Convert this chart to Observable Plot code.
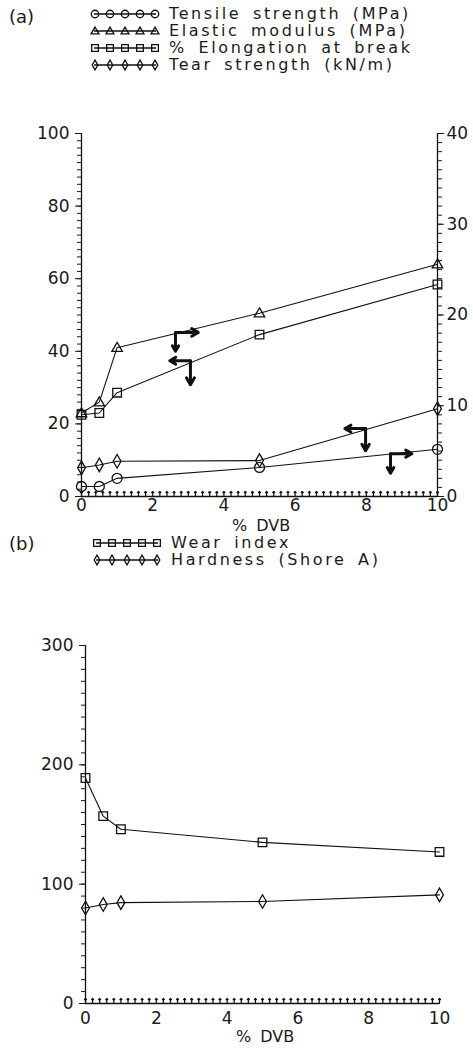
<!DOCTYPE html>
<html><head><meta charset="utf-8">
<script src="https://cdn.jsdelivr.net/npm/d3@7"></script>
<script src="https://cdn.jsdelivr.net/npm/@observablehq/plot@0.6"></script>
<style>
body{margin:0;background:#fff;font-family:"DejaVu Sans",sans-serif;color:#1a1a1a;}
#root{position:relative;width:473px;height:1048px;overflow:hidden;}
.t{position:absolute;font-size:18px;white-space:nowrap;line-height:1;}
.row{position:absolute;display:flex;align-items:center;height:16px;}
.row svg{display:block;}
.row span{font-size:16px;line-height:1;margin-left:7px;white-space:nowrap;letter-spacing:2.6px;word-spacing:4px;}
.plot{position:absolute;left:0;}
</style></head><body><div id="root"></div>
<script>
// ---------- data ----------
const dvb = [0, 0.5, 1, 5, 10];                       // % DVB
// panel (a)
const tensile    = [1.1, 1.1, 2.0, 3.2, 5.2];         // MPa, right axis
const elastic    = [9.2, 10.4, 16.4, 20.2, 25.6];     // MPa, right axis
const elongation = [22.5, 23.0, 28.6, 44.6, 58.4];    // %, left axis
const tear       = [7.9, 8.7, 9.7, 9.9, 24.2];        // kN/m, left axis
// panel (b)
const wear     = [189, 157, 146, 135, 127];
const hardness = [80, 83, 84.5, 85.5, 91];
// tick values
const xTicks = [0, 2, 4, 6, 8, 10];
const leftTicksA = [0, 20, 40, 60, 80, 100];
const rightTicksA = [0, 10, 20, 30, 40];
const leftTicksB = [0, 100, 200, 300];
const legendA = ["Tensile strength (MPa)", "Elastic modulus (MPa)", "% Elongation at break", "Tear strength (kN/m)"];
const legendB = ["Wear index", "Hardness (Shore A)"];
// axis-indicator arrows (x: % DVB, y: left-axis units)
const arrowsA = [
  {x1: 2.64, y1: 45.2, x2: 3.28, y2: 45.2}, {x1: 2.64, y1: 45.2, x2: 2.64, y2: 40.0},
  {x1: 3.06, y1: 37.4, x2: 2.48, y2: 37.4}, {x1: 3.06, y1: 37.4, x2: 3.06, y2: 30.8},
  {x1: 7.98, y1: 18.7, x2: 7.40, y2: 18.7}, {x1: 7.98, y1: 18.7, x2: 7.98, y2: 12.6},
  {x1: 8.68, y1: 11.8, x2: 9.28, y2: 11.8}, {x1: 8.68, y1: 11.8, x2: 8.68, y2: 6.4}
];

const RATIO = 100 / 40; // right axis -> left axis units
const FONT = "DejaVu Sans, sans-serif";

// ---------- symbols ----------
const symCircle = {draw(c, s){ const r = Math.sqrt(s/Math.PI); c.moveTo(r,0); c.arc(0,0,r,0,2*Math.PI); c.closePath(); }};
const symSquare = {draw(c, s){ const r = Math.sqrt(s/Math.PI)*0.9; c.rect(-r,-r,2*r,2*r); }};
const symTri = {draw(c, s){ const r = Math.sqrt(s/Math.PI); c.moveTo(0,-r*1.05); c.lineTo(r*1.05,r*0.75); c.lineTo(-r*1.05,r*0.75); c.closePath(); }};
const symDiamond = {draw(c, s){ const r = Math.sqrt(s/Math.PI); c.moveTo(0,-r*1.3); c.lineTo(r*0.75,0); c.lineTo(0,r*1.3); c.lineTo(-r*0.75,0); c.closePath(); }};

const series = (vals, k) => dvb.map((x, i) => ({x, y: vals[i] * k}));

const root = document.getElementById("root");
function label(text, left, top, extra) {
  const d = document.createElement("div");
  d.className = "t"; d.textContent = text;
  d.style.left = left + "px"; d.style.top = top + "px";
  if (extra) Object.assign(d.style, extra);
  root.appendChild(d);
  return d;
}
function legendRow(sym, text, left, top) {
  const row = document.createElement("div");
  row.className = "row"; row.style.left = left + "px"; row.style.top = top + "px";
  const svg = d3.create("svg").attr("width", 72).attr("height", 16);
  svg.append("line").attr("x1", 4).attr("x2", 66).attr("y1", 8).attr("y2", 8).attr("stroke", "#111").attr("stroke-width", 1.3);
  for (let i = 0; i < 5; i++) {
    const cx = 5 + i * 15, cy = 8;
    const pp = d3.path(); sym.draw(pp, Math.PI * 14);
    svg.append("path").attr("d", pp.toString()).attr("transform", `translate(${cx},${cy})`)
      .attr("fill", "none").attr("stroke", "#111").attr("stroke-width", 1.3);
  }
  row.appendChild(svg.node());
  const sp = document.createElement("span"); sp.textContent = text; row.appendChild(sp);
  root.appendChild(row);
}

const common = (r) => ({stroke: "#111", fill: "none", strokeWidth: 1.3, r});

// ---------- panel (a) ----------
label("(a)", 9, 8);
const symsA = [symCircle, symTri, symSquare, symDiamond];
legendA.forEach((t, i) => legendRow(symsA[i], t, 90, 6 + i * 17));

const plotA = Plot.plot({
  width: 473, height: 440,
  marginLeft: 81, marginRight: 36, marginTop: 33, marginBottom: 44,
  x: {domain: [0, 10]}, y: {domain: [0, 100]},
  style: {fontFamily: FONT, fontSize: "17px", color: "#1a1a1a", background: "transparent", overflow: "visible"},
  marks: [
    Plot.ruleX([0, 10], {stroke: "#111", strokeWidth: 1.3}),
    Plot.ruleY([0], {stroke: "#111", strokeWidth: 1.3}),
    Plot.axisY(d3.range(0, 101, 2), {anchor: "left", tickSize: 4, tickFormat: () => "", label: null}),
    Plot.axisY(leftTicksA, {anchor: "left", tickSize: 6, tickPadding: 6, label: null}),
    Plot.axisY(d3.range(0, 101, RATIO), {anchor: "right", tickSize: 4, tickFormat: () => "", label: null}),
    Plot.axisY(rightTicksA.map(v => v * RATIO), {anchor: "right", tickSize: 6, tickPadding: 3, tickFormat: d => d / RATIO, label: null}),
    Plot.vector(d3.range(0, 51).map(i => i / 5), {x: d => d, y: () => 0, length: 5, rotate: 0, anchor: "start", stroke: "#111", strokeWidth: 1.2}),
    Plot.axisX(xTicks, {anchor: "bottom", tickSize: 0, tickPadding: 2, label: null}),
    Plot.line(series(tensile, RATIO), {x: "x", y: "y", stroke: "#111", strokeWidth: 1.1}),
    Plot.line(series(elastic, RATIO), {x: "x", y: "y", stroke: "#111", strokeWidth: 1.1}),
    Plot.line(series(elongation, 1), {x: "x", y: "y", stroke: "#111", strokeWidth: 1.1}),
    Plot.line(series(tear, 1), {x: "x", y: "y", stroke: "#111", strokeWidth: 1.1}),
    Plot.dot(series(tensile, RATIO), {x: "x", y: "y", symbol: symCircle, ...common(5)}),
    Plot.dot(series(elastic, RATIO), {x: "x", y: "y", symbol: symTri, ...common(5)}),
    Plot.dot(series(elongation, 1), {x: "x", y: "y", symbol: symSquare, ...common(4.8)}),
    Plot.dot(series(tear, 1), {x: "x", y: "y", symbol: symDiamond, ...common(5.2)}),
    Plot.arrow(arrowsA, {x1: "x1", y1: "y1", x2: "x2", y2: "y2", stroke: "#111", strokeWidth: 3, headLength: 7, headAngle: 60})
  ]
});
plotA.classList.add("plot"); plotA.style.top = "100px";
root.appendChild(plotA);
label("% DVB", 0, 518, {width: "522px", textAlign: "center", fontSize: "16px", wordSpacing: "4px"});

// ---------- panel (b) ----------
label("(b)", 9, 535);
legendRow(symSquare, legendB[0], 92, 535);
legendRow(symDiamond, legendB[1], 92, 552);

const plotB = Plot.plot({
  width: 473, height: 448,
  marginLeft: 85, marginRight: 34, marginTop: 45, marginBottom: 45,
  x: {domain: [0, 10]}, y: {domain: [0, 300]},
  style: {fontFamily: FONT, fontSize: "17px", color: "#1a1a1a", background: "transparent", overflow: "visible"},
  marks: [
    Plot.ruleX([0], {stroke: "#111", strokeWidth: 1.3}),
    Plot.ruleY([0], {stroke: "#111", strokeWidth: 1.3}),
    Plot.axisY(d3.range(0, 301, 10), {anchor: "left", tickSize: 4, tickFormat: () => "", label: null}),
    Plot.axisY(leftTicksB, {anchor: "left", tickSize: 6, tickPadding: 6, label: null}),
    Plot.vector(d3.range(0, 51).map(i => i / 5), {x: d => d, y: () => 0, length: 5, rotate: 0, anchor: "start", stroke: "#111", strokeWidth: 1.2}),
    Plot.axisX(xTicks, {anchor: "bottom", tickSize: 0, tickPadding: 8, label: null}),
    Plot.line(series(wear, 1), {x: "x", y: "y", stroke: "#111", strokeWidth: 1.1}),
    Plot.line(series(hardness, 1), {x: "x", y: "y", stroke: "#111", strokeWidth: 1.1}),
    Plot.dot(series(wear, 1), {x: "x", y: "y", symbol: symSquare, ...common(4.8)}),
    Plot.dot(series(hardness, 1), {x: "x", y: "y", symbol: symDiamond, ...common(5.2)})
  ]
});
plotB.classList.add("plot"); plotB.style.top = "600px";
root.appendChild(plotB);
label("% DVB", 0, 1029, {width: "530px", textAlign: "center", fontSize: "16px", wordSpacing: "4px"});
</script>
</body></html>
